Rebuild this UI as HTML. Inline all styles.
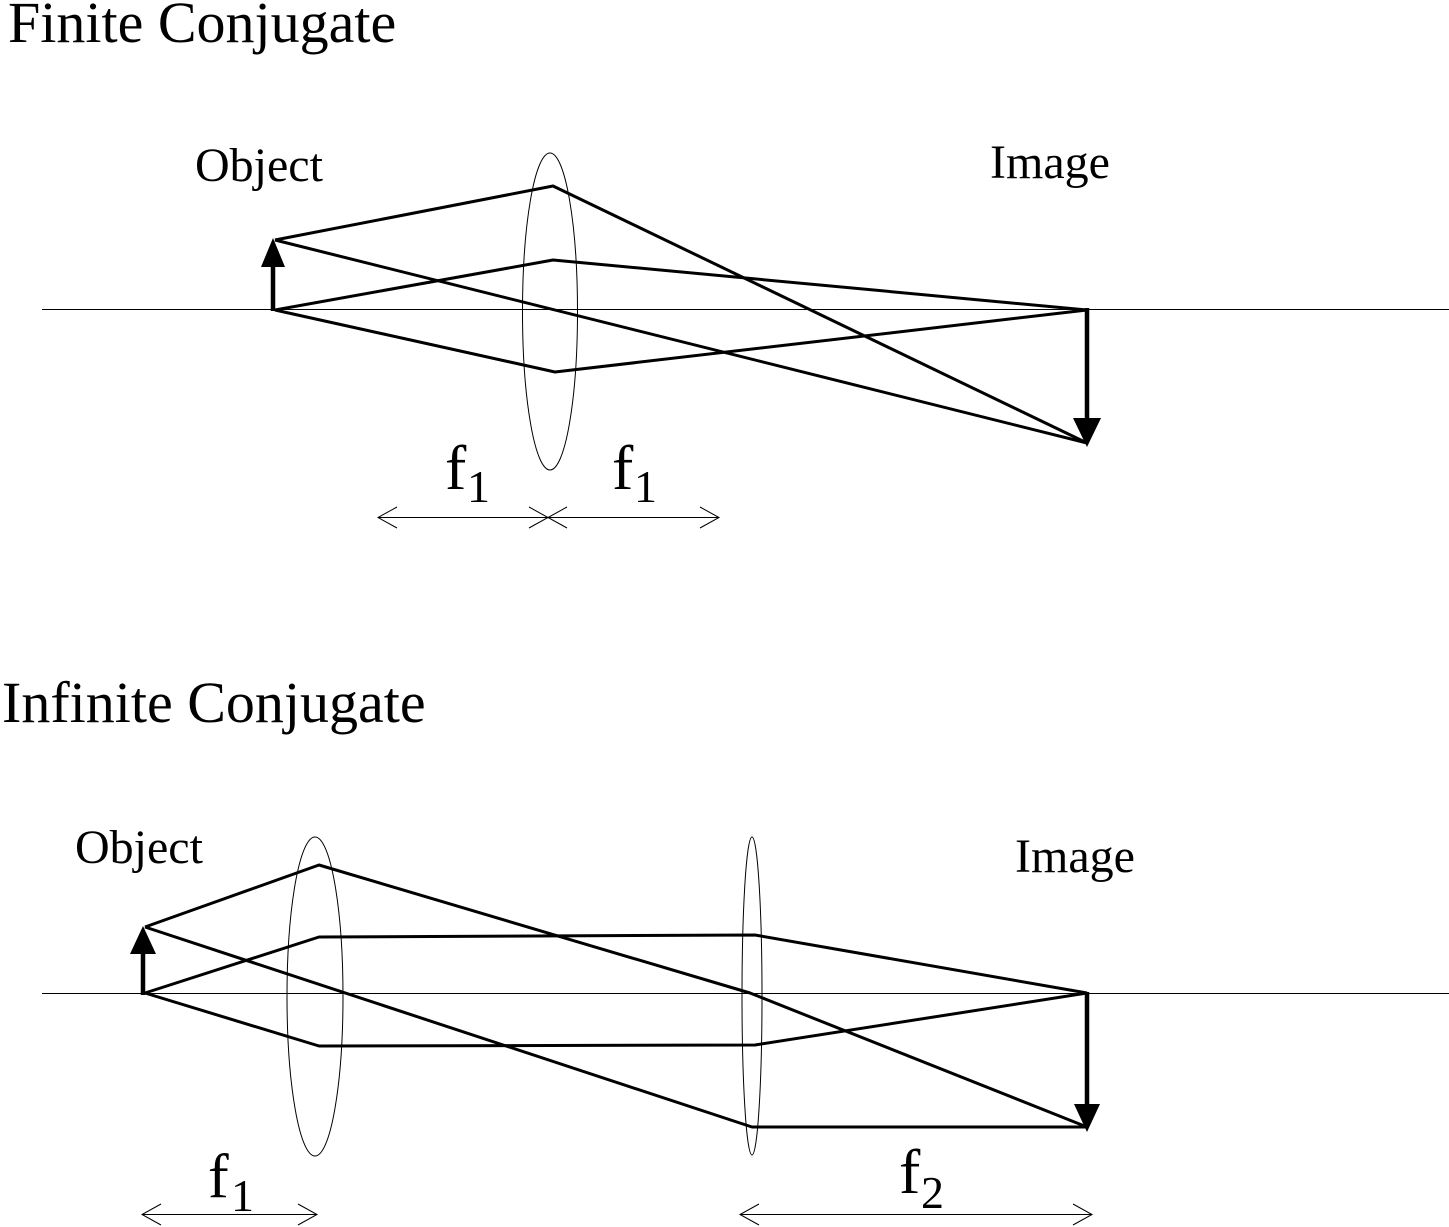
<!DOCTYPE html>
<html>
<head>
<meta charset="utf-8">
<style>
html,body{margin:0;padding:0;background:#fff;}
svg{display:block;}
text{font-family:"Liberation Serif","DejaVu Serif",serif;fill:#000;}
</style>
</head>
<body>
<svg width="1449" height="1227" viewBox="0 0 1449 1227" xmlns="http://www.w3.org/2000/svg">
<rect width="1449" height="1227" fill="#fff"/>

<!-- Titles -->
<text x="8" y="42" font-size="58">Finite Conjugate</text>
<text x="2" y="722" font-size="58">Infinite Conjugate</text>

<!-- ===== TOP DIAGRAM ===== -->
<text x="195" y="181" font-size="48">Object</text>
<text x="990" y="178" font-size="48">Image</text>

<line x1="42" y1="309.5" x2="1449" y2="309.5" stroke="#000" stroke-width="1"/>
<ellipse cx="550" cy="311.5" rx="27.5" ry="158.5" fill="none" stroke="#000" stroke-width="1"/>

<g fill="none" stroke="#000" stroke-width="3" stroke-linejoin="round">
  <polyline points="275,240 553,186 1087,443"/>
  <polyline points="275,240 1087,443"/>
  <polyline points="275,310 553,260 1087,310"/>
  <polyline points="275,310 555,372 1087,310"/>
</g>

<!-- object arrow top -->
<line x1="273" y1="311" x2="273" y2="262" stroke="#000" stroke-width="4.5"/>
<polygon points="273,238 261,267 285,267" fill="#000"/>
<!-- image arrow top -->
<line x1="1087" y1="308" x2="1087" y2="422" stroke="#000" stroke-width="4.5"/>
<polygon points="1073,418 1101,418 1087,447" fill="#000"/>

<!-- dimension arrows top -->
<g fill="none" stroke="#000" stroke-width="1">
  <line x1="378" y1="517.5" x2="719" y2="517.5"/>
  <polyline points="397,507 378,517.5 397,528"/>
  <polyline points="529,507 548,517.5 529,528"/>
  <polyline points="567,507 548,517.5 567,528"/>
  <polyline points="700,507 719,517.5 700,528"/>
</g>
<text x="445" y="489" font-size="64">f</text>
<text x="467" y="502" font-size="46">1</text>
<text x="612" y="489" font-size="64">f</text>
<text x="634" y="502" font-size="46">1</text>

<!-- ===== BOTTOM DIAGRAM ===== -->
<text x="75" y="863" font-size="48">Object</text>
<text x="1015" y="872" font-size="48">Image</text>

<line x1="42" y1="993.5" x2="1449" y2="993.5" stroke="#000" stroke-width="1"/>
<ellipse cx="315" cy="996.5" rx="28" ry="159.5" fill="none" stroke="#000" stroke-width="1"/>
<ellipse cx="752" cy="996" rx="10" ry="159" fill="none" stroke="#000" stroke-width="1"/>

<g fill="none" stroke="#000" stroke-width="3" stroke-linejoin="round">
  <polyline points="145,927 319,865 750,993 1087,1127"/>
  <polyline points="145,927 752,1127 1087,1127"/>
  <polyline points="145,993 319,937 755,935 1087,993"/>
  <polyline points="145,993 319,1046 755,1045 1087,993"/>
</g>

<!-- object arrow bottom -->
<line x1="143" y1="995" x2="143" y2="950" stroke="#000" stroke-width="4.5"/>
<polygon points="143,926 130,954 156,954" fill="#000"/>
<!-- image arrow bottom -->
<line x1="1087" y1="992" x2="1087" y2="1108" stroke="#000" stroke-width="4.5"/>
<polygon points="1074,1104 1100,1104 1087,1132" fill="#000"/>

<!-- dimension arrows bottom -->
<g fill="none" stroke="#000" stroke-width="1">
  <line x1="142" y1="1214.5" x2="317" y2="1214.5"/>
  <polyline points="161,1204 142,1214.5 161,1225"/>
  <polyline points="298,1204 317,1214.5 298,1225"/>
  <line x1="740" y1="1214.5" x2="1092" y2="1214.5"/>
  <polyline points="759,1204 740,1214.5 759,1225"/>
  <polyline points="1073,1204 1092,1214.5 1073,1225"/>
</g>
<text x="208" y="1197" font-size="62">f</text>
<text x="231" y="1211" font-size="46">1</text>
<text x="899" y="1193" font-size="64">f</text>
<text x="921" y="1208" font-size="46">2</text>
</svg>
</body>
</html>
